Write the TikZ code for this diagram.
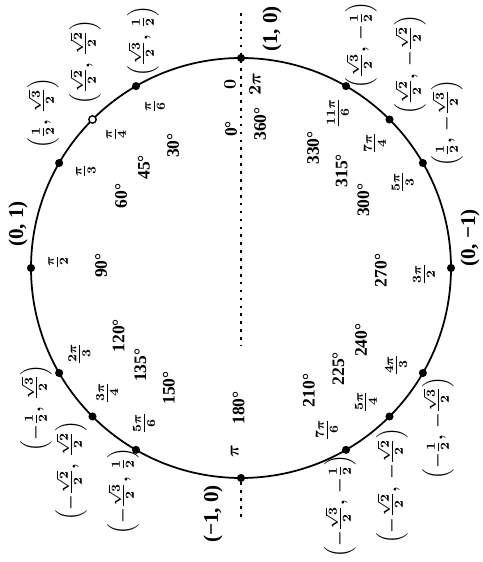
\documentclass[tikz,border=0pt]{standalone}
\usepackage{amsmath}
\usepackage{fontspec}
\setmainfont{Liberation Serif}
\usetikzlibrary{positioning}
\tikzset{
  unitring/.style={line width=1pt},
  ptdot/.style={circle, fill=black, inner sep=0pt, minimum size=4.6pt},
  ptopen/.style={circle, draw=black, fill=white, line width=0.8pt, inner sep=0pt, minimum size=4.2pt},
  axisline/.style={line width=0.7pt, dash pattern=on 1.5pt off 3pt},
  coordlbl/.style={font=\normalsize\bfseries\boldmath, inner sep=1pt},
  plainlbl/.style={font=\large\bfseries, inner sep=1pt},
  radlbl/.style={font=\normalsize\boldmath, inner sep=0.5pt},
  deglbl/.style={font=\normalsize\bfseries, inner sep=0.5pt},
}

\begin{document}
\begin{tikzpicture}
  \useasboundingbox (0,0) rectangle (9.64,11.24);
  \begin{scope}[shift={(4.82,5.88)}, rotate=90, transform shape]
  \draw[unitring] (0,0) circle (4.2);
  % axis through 0 and pi
  \coordinate (axE) at (5.1,0);
  \coordinate (axM) at (-1.55,0);
  \coordinate (axW) at (-5.0,0);
  \draw[axisline] (axE) -- (axM);
  % points on the circle
  \foreach \a in {0,30,60,90,120,135,150,180,210,225,240,270,300,315,330}
    \node[ptdot] (p\a) at (\a:4.2) {};
  \node[ptopen] (p45) at (45:4.2) {};
  \draw[axisline] (p180) -- (axW);
  % radians
  \foreach \a/\t in {30/\frac{\pi}{6}, 45/\frac{\pi}{4}, 60/\frac{\pi}{3}, 90/\frac{\pi}{2},
      120/\frac{2\pi}{3}, 135/\frac{3\pi}{4}, 150/\frac{5\pi}{6}, 180/\pi,
      210/\frac{7\pi}{6}, 225/\frac{5\pi}{4}, 240/\frac{4\pi}{3}, 270/\frac{3\pi}{2},
      300/\frac{5\pi}{3}, 315/\frac{7\pi}{4}, 330/\frac{11\pi}{6}}
    \node[radlbl] (r\a) at ({\a-2}:3.66) {$\t$};
  \node[radlbl] (r0) at (3.68,0.22) {$0$};
  \node[radlbl] (r360) at (3.68,-0.28) {$2\pi$};
  % degrees
  \foreach \a in {30,45,60,90,120,135,150,180,210,225,240,270,300,315,330}
    \node[deglbl] (d\a) at ({\a-1}:2.8) {\a°};
  \node[deglbl] (d0) at (2.78,0.2) {0°};
  \node[deglbl] (d360) at (2.88,-0.38) {360°};
  % coordinates
  \node[plainlbl] (c0) at (4.78,-0.62) {(1, 0)};
  \node[coordlbl] (c30) at (4.54,1.96) {$\left(\frac{\sqrt{3}}{2},\,\frac{1}{2}\right)$};
  \node[coordlbl] (c45) at (4.12,3.12) {$\left(\frac{\sqrt{2}}{2},\,\frac{\sqrt{2}}{2}\right)$};
  \node[coordlbl] (c60) at (3.10,3.96) {$\left(\frac{1}{2},\,\frac{\sqrt{3}}{2}\right)$};
  \node[plainlbl] (c90) at (0.88,4.46) {(0, 1)};
  \node[coordlbl] (c120) at (-2.80,4.10) {$\left(-\frac{1}{2},\,\frac{\sqrt{3}}{2}\right)$};
  \node[coordlbl] (c135) at (-4.06,3.40) {$\left(-\frac{\sqrt{2}}{2},\,\frac{\sqrt{2}}{2}\right)$};
  \node[coordlbl] (c150) at (-4.46,2.36) {$\left(-\frac{\sqrt{3}}{2},\,\frac{1}{2}\right)$};
  \node[plainlbl] (c180) at (-4.92,0.56) {(−1, 0)};
  \node[coordlbl] (c210) at (-4.76,-1.98) {$\left(-\frac{\sqrt{3}}{2},\,-\frac{1}{2}\right)$};
  \node[coordlbl] (c225) at (-4.36,-3.02) {$\left(-\frac{\sqrt{2}}{2},\,-\frac{\sqrt{2}}{2}\right)$};
  \node[coordlbl] (c240) at (-3.20,-3.94) {$\left(-\frac{1}{2},\,-\frac{\sqrt{3}}{2}\right)$};
  \node[plainlbl] (c270) at (0.60,-4.58) {(0, −1)};
  \node[coordlbl] (c300) at (2.90,-4.12) {$\left(\frac{1}{2},\,-\frac{\sqrt{3}}{2}\right)$};
  \node[coordlbl] (c315) at (4.06,-3.38) {$\left(\frac{\sqrt{2}}{2},\,-\frac{\sqrt{2}}{2}\right)$};
  \node[coordlbl] (c330) at (4.46,-2.40) {$\left(\frac{\sqrt{3}}{2},\,-\frac{1}{2}\right)$};
  \end{scope}
\end{tikzpicture}
\end{document}
